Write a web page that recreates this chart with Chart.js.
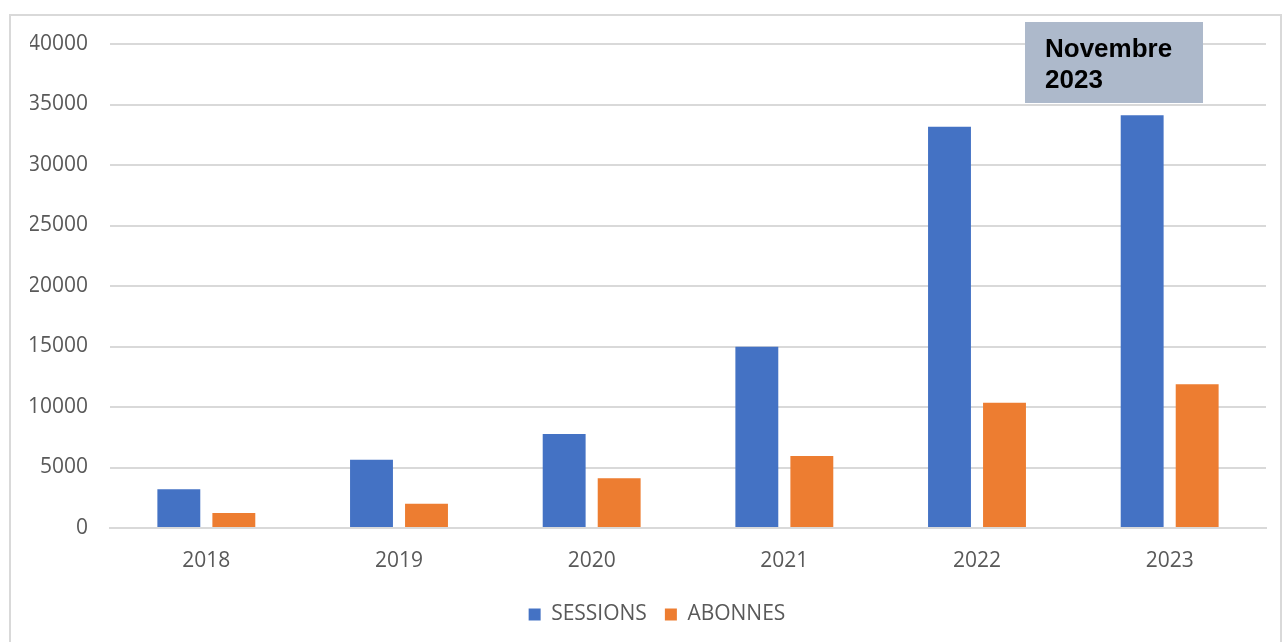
<!DOCTYPE html>
<html>
<head>
<meta charset="utf-8">
<script src="https://cdn.jsdelivr.net/npm/chart.js@4"></script>
<style>
  html, body { margin: 0; padding: 0; background: #fff; }
  #wrap { width: 1284px; height: 642px; }
</style>
</head>
<body>
<div id="wrap"><canvas id="chart" width="1284" height="642"></canvas></div>
<script>
const years = ['2018', '2019', '2020', '2021', '2022', '2023'];
const sessions = [3200, 5640, 7770, 14980, 33170, 34110];
const abonnes = [1250, 2000, 4120, 5950, 10350, 11870];
const yTicks = [0, 5000, 10000, 15000, 20000, 25000, 30000, 35000, 40000];
const noteLines = ['Novembre', '2023'];

const textGrey = '#595959';
const gridGrey = '#d9d9d9';
const tickFont = { family: '"Open Sans", sans-serif', size: 21 };

// frame around the chart, like the office export
const framePlugin = {
    id: 'frame',
    beforeDraw(chart) {
        const ctx = chart.ctx;
        ctx.save();
        ctx.strokeStyle = gridGrey;
        ctx.lineWidth = 2;
        ctx.strokeRect(10, 15, chart.width - 13, chart.height + 5);
        ctx.restore();
    }
};

// grey note box top right
const notePlugin = {
    id: 'note',
    afterDatasetsDraw(chart) {
        const ctx = chart.ctx;
        const area = chart.chartArea;
        const w = 178, h = 81;
        const x = area.right - 63 - w;
        const y = area.top - 22;
        ctx.save();
        ctx.fillStyle = '#adb9cb';
        ctx.fillRect(x, y, w, h);
        ctx.fillStyle = '#000';
        ctx.font = 'bold 26px "Liberation Sans", Arial, sans-serif';
        ctx.textBaseline = 'alphabetic';
        ctx.textAlign = 'left';
        noteLines.forEach((line, i) => {
            ctx.fillText(line, x + 20, y + 35 + i * 31);
        });
        ctx.restore();
    }
};

new Chart(document.getElementById('chart'), {
    type: 'bar',
    data: {
        labels: years,
        datasets: [
            { label: 'SESSIONS', data: sessions, backgroundColor: '#4472c4', categoryPercentage: 0.571, barPercentage: 0.78 },
            { label: 'ABONNES', data: abonnes, backgroundColor: '#ed7d31', categoryPercentage: 0.571, barPercentage: 0.78 }
        ]
    },
    options: {
        responsive: false,
        animation: false,
        layout: { padding: { left: 30, right: 0, top: 44, bottom: 7 } },
        scales: {
            x: {
                grid: { display: false, drawTicks: false },
                border: { display: true, color: gridGrey, width: 2 },
                ticks: { color: textGrey, padding: 20, font: tickFont },
                afterFit(scale) { scale.height = 58; }
            },
            y: {
                min: 0,
                max: 40000,
                grid: { color: gridGrey, lineWidth: 2, drawTicks: false },
                border: { display: false },
                afterBuildTicks(scale) { scale.ticks = yTicks.map(v => ({ value: v })); },
                ticks: { color: textGrey, padding: 22, font: tickFont, callback: v => String(v) },
                afterFit(scale) { scale.width = 80; }
            },
            // empty right axis only keeps the plot off the right edge
            yRight: {
                position: 'right',
                grid: { display: false, drawTicks: false },
                border: { display: false },
                ticks: { display: false },
                afterFit(scale) { scale.width = 18; }
            }
        },
        plugins: {
            legend: {
                position: 'bottom',
                labels: {
                    color: textGrey,
                    boxWidth: 12,
                    boxHeight: 12,
                    padding: 18,
                    font: { family: '"Open Sans", sans-serif', size: 21 }
                }
            },
            tooltip: { enabled: false }
        }
    },
    plugins: [framePlugin, notePlugin]
});
</script>
</body>
</html>
